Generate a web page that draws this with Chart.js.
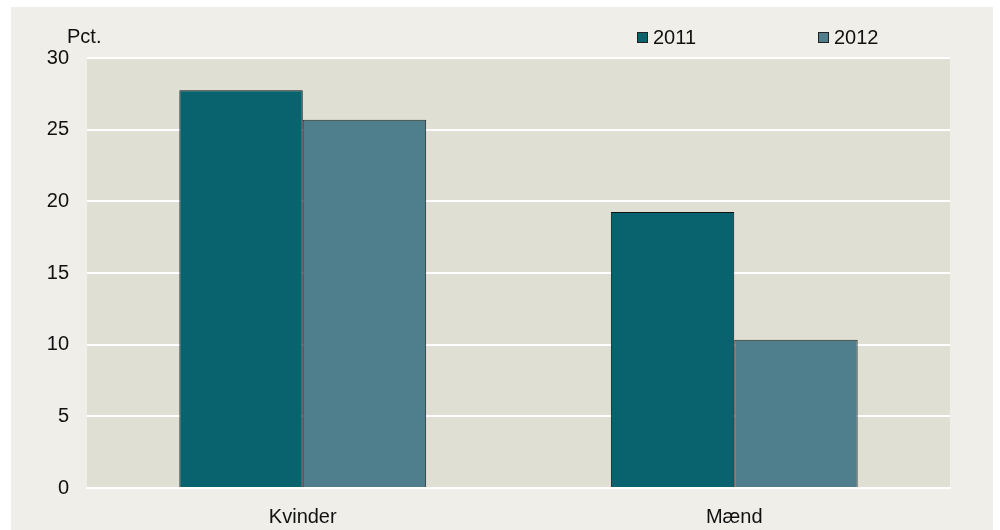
<!DOCTYPE html>
<html>
<head>
<meta charset="utf-8">
<script src="https://cdn.jsdelivr.net/npm/chart.js@4/dist/chart.umd.min.js"></script>
<style>
  html, body { margin: 0; padding: 0; background: #ffffff; }
  #wrap { position: relative; width: 1000px; height: 530px; }
  #legend { position: absolute; top: 26px; left: 0; font-family: "Liberation Sans", Arial, sans-serif; font-size: 20px; color: #111; }
  .item { position: absolute; white-space: nowrap; line-height: 22px; }
  .box { display: inline-block; width: 9px; height: 9px; border: 1px solid #222; margin-right: 5px; vertical-align: 1px; }
</style>
</head>
<body>
<div id="wrap">
  <canvas id="bar-chart" width="1000" height="530"></canvas>
  <div id="legend"></div>
</div>
<script>
const categories = ["Kvinder", "Mænd"];
const values2011 = [27.75, 19.25];
const values2012 = [25.7, 10.35];
const yUnit = "Pct.";

const colors = ["#08636f", "#4f7f8c"];
const legendX = [637, 818];

const bgPlugin = {
  id: "bg",
  beforeDraw(chart) {
    const c = chart.ctx, a = chart.chartArea;
    c.save();
    c.fillStyle = "#efeee8";
    c.fillRect(11, 7, 982, 523);
    c.fillStyle = "#e0dfd4";
    c.fillRect(a.left, a.top, a.right - a.left, a.bottom - a.top);
    c.restore();
  },
  afterDraw(chart) {
    const c = chart.ctx;
    c.save();
    c.fillStyle = "#111";
    c.font = "20px 'Liberation Sans', Arial, sans-serif";
    c.textBaseline = "middle";
    c.fillText(yUnit, 67, 37);
    c.restore();
  }
};

const config = {
  type: "bar",
  data: {
    labels: categories,
    datasets: [
      { label: "2011", data: values2011, backgroundColor: colors[0], borderColor: "#111", borderWidth: 1 },
      { label: "2012", data: values2012, backgroundColor: colors[1], borderColor: "#222", borderWidth: 1 }
    ]
  },
  options: {
    responsive: false,
    animation: false,
    datasets: { bar: { categoryPercentage: 0.572, barPercentage: 1 } },
    layout: { padding: { top: 58, left: 20, right: 50, bottom: 0 } },
    plugins: { legend: { display: false }, tooltip: { enabled: false } },
    scales: {
      x: {
        afterFit(s) { s.height = 42; },
        grid: { display: false },
        border: { display: true, color: "#ffffff", width: 2 },
        ticks: { color: "#111", padding: 9, font: { size: 20, family: "'Liberation Sans', Arial, sans-serif" } }
      },
      y: {
        min: 0,
        max: 30,
        afterFit(s) { s.width = 67; },
        grid: { color: "#ffffff", lineWidth: 2, drawTicks: false },
        border: { display: false },
        ticks: { stepSize: 5, color: "#111", padding: 18, font: { size: 20, family: "'Liberation Sans', Arial, sans-serif" } }
      }
    }
  },
  plugins: [bgPlugin]
};

const chart = new Chart(document.getElementById("bar-chart").getContext("2d"), config);

const legend = document.getElementById("legend");
chart.data.datasets.forEach((ds, i) => {
  const item = document.createElement("div");
  item.className = "item";
  item.style.left = legendX[i] + "px";
  item.innerHTML = '<span class="box" style="background:' + ds.backgroundColor + '"></span>' + ds.label;
  legend.appendChild(item);
});
</script>
</body>
</html>
